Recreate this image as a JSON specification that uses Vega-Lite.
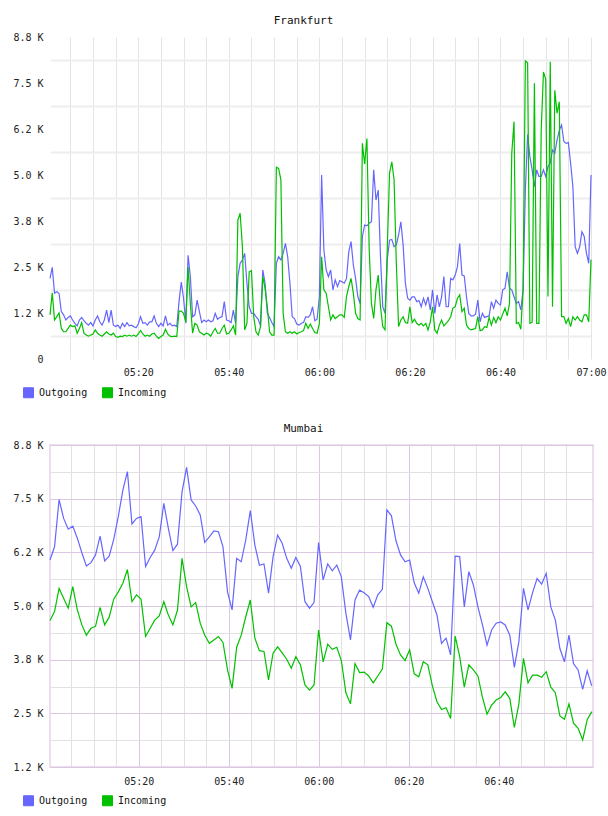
{
  "$schema": "https://vega.github.io/schema/vega-lite/v6.json",
  "background": "white",
  "padding": {"left": 12, "top": 15, "right": 0, "bottom": 0},
  "spacing": 22,
  "config": {
    "font": "DejaVu Sans Mono",
    "view": {"stroke": null},
    "axis": {
      "labelFont": "DejaVu Sans Mono",
      "labelFontSize": 10,
      "labelColor": "#222222",
      "ticks": false,
      "domain": false,
      "title": null,
      "labelOverlap": false,
      "labelFlush": false,
      "labelBound": false
    },
    "title": {"font": "DejaVu Sans Mono", "fontSize": 11, "fontWeight": "normal", "color": "#111111", "anchor": "middle"},
    "legend": {
      "orient": "none",
      "direction": "horizontal",
      "title": null,
      "symbolType": "square",
      "symbolSize": 100,
      "symbolStrokeWidth": 1,
      "labelFont": "DejaVu Sans Mono",
      "labelFontSize": 10,
      "labelColor": "#111111",
      "labelOffset": 5,
      "columnPadding": 12,
      "padding": 0
    }
  },
  "resolve": {"scale": {"color": "independent"}, "legend": {"color": "independent"}},
  "vconcat": [
    {
      "title": {"text": "Frankfurt", "dx": -17, "offset": 6},
      "width": 541,
      "height": 322,
      "data": {
        "values": [
          {"m": 0.5, "Outgoing": 2190, "Incoming": 1200}, {"m": 1, "Outgoing": 2490, "Incoming": 1800},
          {"m": 1.5, "Outgoing": 1790, "Incoming": 1060}, {"m": 2, "Outgoing": 1830, "Incoming": 1150},
          {"m": 2.5, "Outgoing": 1780, "Incoming": 1250}, {"m": 3, "Outgoing": 1290, "Incoming": 830},
          {"m": 3.5, "Outgoing": 1200, "Incoming": 740}, {"m": 4, "Outgoing": 1060, "Incoming": 740},
          {"m": 4.5, "Outgoing": 1130, "Incoming": 830}, {"m": 5, "Outgoing": 1170, "Incoming": 920},
          {"m": 5.5, "Outgoing": 1060, "Incoming": 880}, {"m": 6, "Outgoing": 970, "Incoming": 900},
          {"m": 6.5, "Outgoing": 900, "Incoming": 700}, {"m": 7, "Outgoing": 1060, "Incoming": 830},
          {"m": 7.5, "Outgoing": 1130, "Incoming": 990}, {"m": 8, "Outgoing": 1040, "Incoming": 700},
          {"m": 8.5, "Outgoing": 970, "Incoming": 650}, {"m": 9, "Outgoing": 920, "Incoming": 620},
          {"m": 9.5, "Outgoing": 990, "Incoming": 650}, {"m": 10, "Outgoing": 900, "Incoming": 680},
          {"m": 10.5, "Outgoing": 1060, "Incoming": 790}, {"m": 11, "Outgoing": 1170, "Incoming": 700},
          {"m": 11.5, "Outgoing": 1010, "Incoming": 650}, {"m": 12, "Outgoing": 920, "Incoming": 620},
          {"m": 12.5, "Outgoing": 1060, "Incoming": 680}, {"m": 13, "Outgoing": 1330, "Incoming": 740},
          {"m": 13.5, "Outgoing": 990, "Incoming": 680}, {"m": 14, "Outgoing": 1330, "Incoming": 650},
          {"m": 14.5, "Outgoing": 920, "Incoming": 700}, {"m": 15, "Outgoing": 880, "Incoming": 610},
          {"m": 15.5, "Outgoing": 920, "Incoming": 590}, {"m": 16, "Outgoing": 830, "Incoming": 620},
          {"m": 16.5, "Outgoing": 970, "Incoming": 610}, {"m": 17, "Outgoing": 880, "Incoming": 650},
          {"m": 17.5, "Outgoing": 990, "Incoming": 620}, {"m": 18, "Outgoing": 900, "Incoming": 650},
          {"m": 18.5, "Outgoing": 920, "Incoming": 620}, {"m": 19, "Outgoing": 880, "Incoming": 650},
          {"m": 19.5, "Outgoing": 850, "Incoming": 610}, {"m": 20, "Outgoing": 950, "Incoming": 680},
          {"m": 20.5, "Outgoing": 1150, "Incoming": 770}, {"m": 21, "Outgoing": 970, "Incoming": 680},
          {"m": 21.5, "Outgoing": 990, "Incoming": 620}, {"m": 22, "Outgoing": 920, "Incoming": 650},
          {"m": 22.5, "Outgoing": 1010, "Incoming": 620}, {"m": 23, "Outgoing": 1010, "Incoming": 680},
          {"m": 23.5, "Outgoing": 1170, "Incoming": 700}, {"m": 24, "Outgoing": 970, "Incoming": 620},
          {"m": 24.5, "Outgoing": 880, "Incoming": 560}, {"m": 25, "Outgoing": 970, "Incoming": 610},
          {"m": 25.5, "Outgoing": 900, "Incoming": 650}, {"m": 26, "Outgoing": 1170, "Incoming": 810},
          {"m": 26.5, "Outgoing": 920, "Incoming": 680}, {"m": 27, "Outgoing": 970, "Incoming": 620},
          {"m": 27.5, "Outgoing": 900, "Incoming": 610}, {"m": 28, "Outgoing": 920, "Incoming": 620},
          {"m": 28.5, "Outgoing": 880, "Incoming": 610}, {"m": 29, "Outgoing": 1560, "Incoming": 1300},
          {"m": 29.5, "Outgoing": 2090, "Incoming": 1300}, {"m": 30, "Outgoing": 1650, "Incoming": 1240},
          {"m": 30.5, "Outgoing": 970, "Incoming": 1000}, {"m": 31, "Outgoing": 2820, "Incoming": 2500},
          {"m": 31.5, "Outgoing": 2240, "Incoming": 1510}, {"m": 32, "Outgoing": 1150, "Incoming": 700},
          {"m": 32.5, "Outgoing": 1200, "Incoming": 970}, {"m": 33, "Outgoing": 1600, "Incoming": 920},
          {"m": 33.5, "Outgoing": 1290, "Incoming": 740}, {"m": 34, "Outgoing": 990, "Incoming": 700},
          {"m": 34.5, "Outgoing": 1060, "Incoming": 650}, {"m": 35, "Outgoing": 1010, "Incoming": 700},
          {"m": 35.5, "Outgoing": 1060, "Incoming": 680}, {"m": 36, "Outgoing": 1010, "Incoming": 620},
          {"m": 36.5, "Outgoing": 1040, "Incoming": 740}, {"m": 37, "Outgoing": 1240, "Incoming": 830},
          {"m": 37.5, "Outgoing": 1080, "Incoming": 700}, {"m": 38, "Outgoing": 1130, "Incoming": 700},
          {"m": 38.5, "Outgoing": 1150, "Incoming": 830}, {"m": 39, "Outgoing": 1560, "Incoming": 920},
          {"m": 39.5, "Outgoing": 1060, "Incoming": 680}, {"m": 40, "Outgoing": 1040, "Incoming": 700},
          {"m": 40.5, "Outgoing": 990, "Incoming": 790}, {"m": 41, "Outgoing": 1330, "Incoming": 900},
          {"m": 41.5, "Outgoing": 970, "Incoming": 650}, {"m": 42, "Outgoing": 2240, "Incoming": 3780},
          {"m": 42.5, "Outgoing": 2600, "Incoming": 3960}, {"m": 43, "Outgoing": 2690, "Incoming": 3050},
          {"m": 43.5, "Outgoing": 2870, "Incoming": 790}, {"m": 44, "Outgoing": 2060, "Incoming": 970},
          {"m": 44.5, "Outgoing": 1420, "Incoming": 2370}, {"m": 45, "Outgoing": 1240, "Incoming": 2400},
          {"m": 45.5, "Outgoing": 1240, "Incoming": 1150}, {"m": 46, "Outgoing": 1150, "Incoming": 740},
          {"m": 46.5, "Outgoing": 1080, "Incoming": 650}, {"m": 47, "Outgoing": 900, "Incoming": 880},
          {"m": 47.5, "Outgoing": 2420, "Incoming": 2240}, {"m": 48, "Outgoing": 2060, "Incoming": 1920},
          {"m": 48.5, "Outgoing": 1240, "Incoming": 1420}, {"m": 49, "Outgoing": 1130, "Incoming": 740},
          {"m": 49.5, "Outgoing": 990, "Incoming": 650}, {"m": 50, "Outgoing": 880, "Incoming": 650},
          {"m": 50.5, "Outgoing": 2600, "Incoming": 5210}, {"m": 51, "Outgoing": 2780, "Incoming": 5180},
          {"m": 51.5, "Outgoing": 2690, "Incoming": 4870}, {"m": 52, "Outgoing": 2870, "Incoming": 1240},
          {"m": 52.5, "Outgoing": 3140, "Incoming": 740}, {"m": 53, "Outgoing": 2780, "Incoming": 700},
          {"m": 53.5, "Outgoing": 2060, "Incoming": 740}, {"m": 54, "Outgoing": 1150, "Incoming": 700},
          {"m": 54.5, "Outgoing": 1100, "Incoming": 740}, {"m": 55, "Outgoing": 950, "Incoming": 680},
          {"m": 55.5, "Outgoing": 920, "Incoming": 720}, {"m": 56, "Outgoing": 970, "Incoming": 740},
          {"m": 56.5, "Outgoing": 990, "Incoming": 770}, {"m": 57, "Outgoing": 1150, "Incoming": 970},
          {"m": 57.5, "Outgoing": 1130, "Incoming": 830}, {"m": 58, "Outgoing": 1200, "Incoming": 950},
          {"m": 58.5, "Outgoing": 1420, "Incoming": 830}, {"m": 59, "Outgoing": 1040, "Incoming": 720},
          {"m": 59.5, "Outgoing": 1080, "Incoming": 700}, {"m": 60, "Outgoing": 1690, "Incoming": 970},
          {"m": 60.5, "Outgoing": 5000, "Incoming": 2780}, {"m": 61, "Outgoing": 2960, "Incoming": 1880},
          {"m": 61.5, "Outgoing": 2420, "Incoming": 1790}, {"m": 62, "Outgoing": 2240, "Incoming": 1420},
          {"m": 62.5, "Outgoing": 2420, "Incoming": 1060}, {"m": 63, "Outgoing": 1880, "Incoming": 1200},
          {"m": 63.5, "Outgoing": 2150, "Incoming": 1100}, {"m": 64, "Outgoing": 1970, "Incoming": 1150},
          {"m": 64.5, "Outgoing": 2130, "Incoming": 1200}, {"m": 65, "Outgoing": 2100, "Incoming": 1200},
          {"m": 65.5, "Outgoing": 2060, "Incoming": 1130}, {"m": 66, "Outgoing": 2190, "Incoming": 1700},
          {"m": 66.5, "Outgoing": 2920, "Incoming": 1970}, {"m": 67, "Outgoing": 3190, "Incoming": 2190},
          {"m": 67.5, "Outgoing": 2560, "Incoming": 1790}, {"m": 68, "Outgoing": 2190, "Incoming": 1240},
          {"m": 68.5, "Outgoing": 1690, "Incoming": 1100}, {"m": 69, "Outgoing": 1510, "Incoming": 1060},
          {"m": 69.5, "Outgoing": 3330, "Incoming": 5860}, {"m": 70, "Outgoing": 3640, "Incoming": 5300},
          {"m": 70.5, "Outgoing": 3620, "Incoming": 5990}, {"m": 71, "Outgoing": 3690, "Incoming": 3000},
          {"m": 71.5, "Outgoing": 3730, "Incoming": 1510}, {"m": 72, "Outgoing": 5140, "Incoming": 1100},
          {"m": 72.5, "Outgoing": 4320, "Incoming": 1880}, {"m": 73, "Outgoing": 4590, "Incoming": 2280},
          {"m": 73.5, "Outgoing": 2780, "Incoming": 1420}, {"m": 74, "Outgoing": 1420, "Incoming": 880},
          {"m": 74.5, "Outgoing": 1240, "Incoming": 790}, {"m": 75, "Outgoing": 2700, "Incoming": 3000},
          {"m": 75.5, "Outgoing": 3230, "Incoming": 5050}, {"m": 76, "Outgoing": 3250, "Incoming": 5360},
          {"m": 76.5, "Outgoing": 3050, "Incoming": 4870}, {"m": 77, "Outgoing": 3100, "Incoming": 2600},
          {"m": 77.5, "Outgoing": 3370, "Incoming": 880}, {"m": 78, "Outgoing": 3730, "Incoming": 1060},
          {"m": 78.5, "Outgoing": 3100, "Incoming": 1150}, {"m": 79, "Outgoing": 2060, "Incoming": 990},
          {"m": 79.5, "Outgoing": 1650, "Incoming": 970}, {"m": 80, "Outgoing": 1600, "Incoming": 1420},
          {"m": 80.5, "Outgoing": 1690, "Incoming": 990}, {"m": 81, "Outgoing": 1690, "Incoming": 1080},
          {"m": 81.5, "Outgoing": 1560, "Incoming": 970}, {"m": 82, "Outgoing": 1590, "Incoming": 920},
          {"m": 82.5, "Outgoing": 1420, "Incoming": 970}, {"m": 83, "Outgoing": 1650, "Incoming": 900},
          {"m": 83.5, "Outgoing": 1470, "Incoming": 970}, {"m": 84, "Outgoing": 1690, "Incoming": 790},
          {"m": 84.5, "Outgoing": 1330, "Incoming": 1010}, {"m": 85, "Outgoing": 1880, "Incoming": 1420},
          {"m": 85.5, "Outgoing": 1240, "Incoming": 790}, {"m": 86, "Outgoing": 1740, "Incoming": 700},
          {"m": 86.5, "Outgoing": 1420, "Incoming": 920}, {"m": 87, "Outgoing": 1690, "Incoming": 1060},
          {"m": 87.5, "Outgoing": 2240, "Incoming": 900}, {"m": 88, "Outgoing": 1420, "Incoming": 970},
          {"m": 88.5, "Outgoing": 1420, "Incoming": 1040}, {"m": 89, "Outgoing": 2190, "Incoming": 1150},
          {"m": 89.5, "Outgoing": 2150, "Incoming": 1380}, {"m": 90, "Outgoing": 2280, "Incoming": 1420},
          {"m": 90.5, "Outgoing": 2510, "Incoming": 1650}, {"m": 91, "Outgoing": 3140, "Incoming": 1740},
          {"m": 91.5, "Outgoing": 2280, "Incoming": 1290}, {"m": 92, "Outgoing": 2260, "Incoming": 1380},
          {"m": 92.5, "Outgoing": 1690, "Incoming": 920}, {"m": 93, "Outgoing": 1240, "Incoming": 830},
          {"m": 93.5, "Outgoing": 1170, "Incoming": 790}, {"m": 94, "Outgoing": 1170, "Incoming": 810},
          {"m": 94.5, "Outgoing": 1220, "Incoming": 830}, {"m": 95, "Outgoing": 1600, "Incoming": 1150},
          {"m": 95.5, "Outgoing": 1010, "Incoming": 770}, {"m": 96, "Outgoing": 1240, "Incoming": 790},
          {"m": 96.5, "Outgoing": 1130, "Incoming": 880}, {"m": 97, "Outgoing": 1150, "Incoming": 860},
          {"m": 97.5, "Outgoing": 1170, "Incoming": 1130}, {"m": 98, "Outgoing": 1560, "Incoming": 920},
          {"m": 98.5, "Outgoing": 1380, "Incoming": 1130}, {"m": 99, "Outgoing": 1600, "Incoming": 990},
          {"m": 99.5, "Outgoing": 1510, "Incoming": 1150}, {"m": 100, "Outgoing": 1470, "Incoming": 1060},
          {"m": 100.5, "Outgoing": 1880, "Incoming": 1220}, {"m": 101, "Outgoing": 1920, "Incoming": 1380},
          {"m": 101.5, "Outgoing": 2370, "Incoming": 1170}, {"m": 102, "Outgoing": 1920, "Incoming": 1510},
          {"m": 102.5, "Outgoing": 1880, "Incoming": 5600}, {"m": 103, "Outgoing": 1690, "Incoming": 6450},
          {"m": 103.5, "Outgoing": 1510, "Incoming": 970}, {"m": 104, "Outgoing": 1560, "Incoming": 990},
          {"m": 104.5, "Outgoing": 1330, "Incoming": 810}, {"m": 105, "Outgoing": 1880, "Incoming": 1880},
          {"m": 105.5, "Outgoing": 4590, "Incoming": 8100}, {"m": 106, "Outgoing": 6100, "Incoming": 8050},
          {"m": 106.5, "Outgoing": 5500, "Incoming": 970}, {"m": 107, "Outgoing": 5140, "Incoming": 1000},
          {"m": 107.5, "Outgoing": 4680, "Incoming": 7490}, {"m": 108, "Outgoing": 5140, "Incoming": 970},
          {"m": 108.5, "Outgoing": 4960, "Incoming": 970}, {"m": 109, "Outgoing": 4960, "Incoming": 6200},
          {"m": 109.5, "Outgoing": 5140, "Incoming": 7800}, {"m": 110, "Outgoing": 4960, "Incoming": 7600},
          {"m": 110.5, "Outgoing": 5230, "Incoming": 1700}, {"m": 111, "Outgoing": 5320, "Incoming": 8080},
          {"m": 111.5, "Outgoing": 5680, "Incoming": 1420}, {"m": 112, "Outgoing": 5590, "Incoming": 7300},
          {"m": 112.5, "Outgoing": 5950, "Incoming": 6680}, {"m": 113, "Outgoing": 6220, "Incoming": 6990},
          {"m": 113.5, "Outgoing": 6360, "Incoming": 1150}, {"m": 114, "Outgoing": 5910, "Incoming": 1150},
          {"m": 114.5, "Outgoing": 5860, "Incoming": 970}, {"m": 115, "Outgoing": 5880, "Incoming": 1100},
          {"m": 115.5, "Outgoing": 5320, "Incoming": 880}, {"m": 116, "Outgoing": 4680, "Incoming": 1150},
          {"m": 116.5, "Outgoing": 3050, "Incoming": 1060}, {"m": 117, "Outgoing": 2870, "Incoming": 1150},
          {"m": 117.5, "Outgoing": 3050, "Incoming": 1060}, {"m": 118, "Outgoing": 3460, "Incoming": 1010},
          {"m": 118.5, "Outgoing": 3330, "Incoming": 1200}, {"m": 119, "Outgoing": 2870, "Incoming": 1200},
          {"m": 119.5, "Outgoing": 2600, "Incoming": 1010}, {"m": 120, "Outgoing": 5000, "Incoming": 2700}
        ]
      },
      "transform": [{"fold": ["Outgoing", "Incoming"], "as": ["series", "bytes"]}],
      "mark": {"type": "line", "strokeWidth": 1.2},
      "encoding": {
        "x": {
          "field": "m",
          "type": "quantitative",
          "scale": {"domain": [0.5, 120], "nice": false, "zero": false},
          "axis": {
            "values": [5, 10, 15, 20, 25, 30, 35, 40, 45, 50, 55, 60, 65, 70, 75, 80, 85, 90, 95, 100, 105, 110, 115, 120],
            "labelExpr": "datum.value % 20 === 0 ? '0' + (5 + floor(datum.value / 60)) + ':' + (datum.value % 60 === 0 ? '00' : '' + (datum.value % 60)) : ''",
            "gridColor": "#e4e4e4",
            "gridWidth": 1,
            "labelPadding": 8
          }
        },
        "y": {
          "field": "bytes",
          "type": "quantitative",
          "scale": {"domain": [0, 8750], "nice": false},
          "axis": {
            "values": [0, 625, 1250, 1875, 2500, 3125, 3750, 4375, 5000, 5625, 6250, 6875, 7500, 8125, 8750],
            "labelExpr": "datum.value === 0 ? '0' : datum.value % 1250 !== 0 ? '' : datum.value === 1250 ? '1.2 K' : datum.value === 3750 ? '3.8 K' : datum.value === 6250 ? '6.2 K' : datum.value === 8750 ? '8.8 K' : format(datum.value / 1000, '.1f') + ' K'",
            "gridColor": {"condition": {"test": "datum.value % 1250 === 0", "value": "transparent"}, "value": "#eeeeee"},
            "gridWidth": 2,
            "labelPadding": 7
          }
        },
        "color": {
          "field": "series",
          "type": "nominal",
          "scale": {"domain": ["Outgoing", "Incoming"], "range": ["#6666ff", "#00c000"]},
          "legend": {
            "legendX": -27,
            "legendY": 350,
            "encode": {
              "symbols": {
                "update": {
                  "fill": {"signal": "datum.value === 'Outgoing' ? '#6666ff' : '#00c000'"},
                  "stroke": {"value": "#999999"},
                  "strokeWidth": {"value": 1},
                  "opacity": {"value": 1}
                }
              }
            }
          }
        }
      }
    },
    {
      "title": {"text": "Mumbai", "dx": -18, "offset": 6},
      "width": 543,
      "height": 322,
      "view": {"stroke": "#e6d4ea", "strokeWidth": 1.5},
      "data": {
        "values": [
          {"m": 0.27, "Outgoing": 6070, "Incoming": 4660}, {"m": 1.28, "Outgoing": 6380, "Incoming": 4870},
          {"m": 2.29, "Outgoing": 7480, "Incoming": 5410}, {"m": 3.3, "Outgoing": 7040, "Incoming": 5180},
          {"m": 4.32, "Outgoing": 6790, "Incoming": 4950}, {"m": 5.33, "Outgoing": 6860, "Incoming": 5450},
          {"m": 6.34, "Outgoing": 6580, "Incoming": 4910}, {"m": 7.35, "Outgoing": 6240, "Incoming": 4560},
          {"m": 8.36, "Outgoing": 5930, "Incoming": 4320}, {"m": 9.37, "Outgoing": 6010, "Incoming": 4480},
          {"m": 10.39, "Outgoing": 6190, "Incoming": 4530}, {"m": 11.4, "Outgoing": 6630, "Incoming": 4970},
          {"m": 12.41, "Outgoing": 6050, "Incoming": 4560}, {"m": 13.42, "Outgoing": 6160, "Incoming": 4740},
          {"m": 14.43, "Outgoing": 6550, "Incoming": 5160}, {"m": 15.44, "Outgoing": 7080, "Incoming": 5330},
          {"m": 16.46, "Outgoing": 7700, "Incoming": 5530}, {"m": 17.47, "Outgoing": 8130, "Incoming": 5850},
          {"m": 18.48, "Outgoing": 6910, "Incoming": 5100}, {"m": 19.49, "Outgoing": 7040, "Incoming": 5260},
          {"m": 20.5, "Outgoing": 7080, "Incoming": 5160}, {"m": 21.51, "Outgoing": 5920, "Incoming": 4290},
          {"m": 22.53, "Outgoing": 6130, "Incoming": 4480}, {"m": 23.54, "Outgoing": 6300, "Incoming": 4670},
          {"m": 24.55, "Outgoing": 6610, "Incoming": 4770}, {"m": 25.56, "Outgoing": 7390, "Incoming": 5100},
          {"m": 26.57, "Outgoing": 6810, "Incoming": 4790}, {"m": 27.58, "Outgoing": 6290, "Incoming": 4560},
          {"m": 28.59, "Outgoing": 6440, "Incoming": 4900}, {"m": 29.61, "Outgoing": 7660, "Incoming": 6110},
          {"m": 30.62, "Outgoing": 8230, "Incoming": 5450}, {"m": 31.63, "Outgoing": 7470, "Incoming": 4980},
          {"m": 32.64, "Outgoing": 7330, "Incoming": 5080}, {"m": 33.65, "Outgoing": 7120, "Incoming": 4600},
          {"m": 34.66, "Outgoing": 6480, "Incoming": 4320}, {"m": 35.68, "Outgoing": 6610, "Incoming": 4130},
          {"m": 36.69, "Outgoing": 6750, "Incoming": 4210}, {"m": 37.7, "Outgoing": 6730, "Incoming": 4290},
          {"m": 38.71, "Outgoing": 6380, "Incoming": 4150}, {"m": 39.72, "Outgoing": 5330, "Incoming": 3510},
          {"m": 40.73, "Outgoing": 4910, "Incoming": 3080}, {"m": 41.75, "Outgoing": 6110, "Incoming": 4040},
          {"m": 42.76, "Outgoing": 6030, "Incoming": 4320}, {"m": 43.77, "Outgoing": 6540, "Incoming": 4750},
          {"m": 44.78, "Outgoing": 7220, "Incoming": 5140}, {"m": 45.79, "Outgoing": 6420, "Incoming": 4250},
          {"m": 46.8, "Outgoing": 5950, "Incoming": 3960}, {"m": 47.82, "Outgoing": 5980, "Incoming": 3940},
          {"m": 48.83, "Outgoing": 5300, "Incoming": 3280}, {"m": 49.84, "Outgoing": 6150, "Incoming": 3900},
          {"m": 50.85, "Outgoing": 6650, "Incoming": 4050}, {"m": 51.86, "Outgoing": 6460, "Incoming": 3910},
          {"m": 52.87, "Outgoing": 6110, "Incoming": 3760}, {"m": 53.88, "Outgoing": 5880, "Incoming": 3550},
          {"m": 54.9, "Outgoing": 6130, "Incoming": 3820}, {"m": 55.91, "Outgoing": 5920, "Incoming": 3630},
          {"m": 56.92, "Outgoing": 5100, "Incoming": 3160}, {"m": 57.93, "Outgoing": 4950, "Incoming": 3040},
          {"m": 58.94, "Outgoing": 5080, "Incoming": 3160}, {"m": 59.95, "Outgoing": 6480, "Incoming": 4440},
          {"m": 60.97, "Outgoing": 5610, "Incoming": 3700}, {"m": 61.98, "Outgoing": 5980, "Incoming": 4110},
          {"m": 62.99, "Outgoing": 5820, "Incoming": 3990}, {"m": 64.0, "Outgoing": 5950, "Incoming": 4040},
          {"m": 65.01, "Outgoing": 5680, "Incoming": 3730}, {"m": 66.02, "Outgoing": 4830, "Incoming": 2980},
          {"m": 67.04, "Outgoing": 4210, "Incoming": 2720}, {"m": 68.05, "Outgoing": 5140, "Incoming": 3660},
          {"m": 69.06, "Outgoing": 5370, "Incoming": 3450}, {"m": 70.07, "Outgoing": 5310, "Incoming": 3460},
          {"m": 71.08, "Outgoing": 5220, "Incoming": 3370}, {"m": 72.09, "Outgoing": 4970, "Incoming": 3210},
          {"m": 73.11, "Outgoing": 5260, "Incoming": 3370}, {"m": 74.12, "Outgoing": 5390, "Incoming": 3530},
          {"m": 75.13, "Outgoing": 7240, "Incoming": 4610}, {"m": 76.14, "Outgoing": 7100, "Incoming": 4530},
          {"m": 77.15, "Outgoing": 6520, "Incoming": 4110}, {"m": 78.16, "Outgoing": 6190, "Incoming": 3860},
          {"m": 79.17, "Outgoing": 6030, "Incoming": 3730}, {"m": 80.19, "Outgoing": 6070, "Incoming": 3980},
          {"m": 81.2, "Outgoing": 5540, "Incoming": 3420}, {"m": 82.21, "Outgoing": 5300, "Incoming": 3350},
          {"m": 83.22, "Outgoing": 5680, "Incoming": 3700}, {"m": 84.23, "Outgoing": 5410, "Incoming": 3630},
          {"m": 85.24, "Outgoing": 5100, "Incoming": 3140}, {"m": 86.26, "Outgoing": 4790, "Incoming": 2770},
          {"m": 87.27, "Outgoing": 4130, "Incoming": 2590}, {"m": 88.28, "Outgoing": 4250, "Incoming": 2630},
          {"m": 89.29, "Outgoing": 3860, "Incoming": 2380}, {"m": 90.3, "Outgoing": 6160, "Incoming": 4300},
          {"m": 91.31, "Outgoing": 6150, "Incoming": 3820}, {"m": 92.33, "Outgoing": 4980, "Incoming": 3110},
          {"m": 93.34, "Outgoing": 5800, "Incoming": 3630}, {"m": 94.35, "Outgoing": 5490, "Incoming": 3510},
          {"m": 95.36, "Outgoing": 4980, "Incoming": 3370}, {"m": 96.37, "Outgoing": 4560, "Incoming": 2870},
          {"m": 97.38, "Outgoing": 4090, "Incoming": 2480}, {"m": 98.4, "Outgoing": 4440, "Incoming": 2690},
          {"m": 99.41, "Outgoing": 4600, "Incoming": 2810}, {"m": 100.42, "Outgoing": 4630, "Incoming": 2870},
          {"m": 101.43, "Outgoing": 4560, "Incoming": 3000}, {"m": 102.44, "Outgoing": 4320, "Incoming": 2850},
          {"m": 103.45, "Outgoing": 3570, "Incoming": 2170}, {"m": 104.46, "Outgoing": 4170, "Incoming": 2720},
          {"m": 105.48, "Outgoing": 5410, "Incoming": 3780}, {"m": 106.49, "Outgoing": 4910, "Incoming": 3210},
          {"m": 107.5, "Outgoing": 5310, "Incoming": 3390}, {"m": 108.51, "Outgoing": 5640, "Incoming": 3390},
          {"m": 109.52, "Outgoing": 5510, "Incoming": 3340}, {"m": 110.53, "Outgoing": 5760, "Incoming": 3470},
          {"m": 111.55, "Outgoing": 4980, "Incoming": 3110}, {"m": 112.56, "Outgoing": 4670, "Incoming": 2980},
          {"m": 113.57, "Outgoing": 4010, "Incoming": 2440}, {"m": 114.58, "Outgoing": 3700, "Incoming": 2360},
          {"m": 115.59, "Outgoing": 4320, "Incoming": 2720}, {"m": 116.6, "Outgoing": 3660, "Incoming": 2270},
          {"m": 117.62, "Outgoing": 3510, "Incoming": 2150}, {"m": 118.63, "Outgoing": 3060, "Incoming": 1880},
          {"m": 119.64, "Outgoing": 3490, "Incoming": 2350}, {"m": 120.65, "Outgoing": 3140, "Incoming": 2540}
        ]
      },
      "transform": [{"fold": ["Outgoing", "Incoming"], "as": ["series", "bytes"]}],
      "mark": {"type": "line", "strokeWidth": 1.2},
      "encoding": {
        "x": {
          "field": "m",
          "type": "quantitative",
          "scale": {"domain": [0.27, 120.93], "nice": false, "zero": false},
          "axis": {
            "values": [5, 10, 15, 20, 25, 30, 35, 40, 45, 50, 55, 60, 65, 70, 75, 80, 85, 90, 95, 100, 105, 110, 115],
            "labelExpr": "datum.value % 20 === 0 ? '0' + (5 + floor(datum.value / 60)) + ':' + (datum.value % 60 === 0 ? '00' : '' + (datum.value % 60)) : ''",
            "gridColor": {"condition": {"test": "datum.value % 20 === 0", "value": "#dcc6e2"}, "value": "#e2e2e2"},
            "gridWidth": 1,
            "labelPadding": 9
          }
        },
        "y": {
          "field": "bytes",
          "type": "quantitative",
          "scale": {"domain": [1250, 8750], "nice": false, "zero": false},
          "axis": {
            "values": [1250, 1875, 2500, 3125, 3750, 4375, 5000, 5625, 6250, 6875, 7500, 8125, 8750],
            "labelExpr": "datum.value % 1250 !== 0 ? '' : datum.value === 1250 ? '1.2 K' : datum.value === 3750 ? '3.8 K' : datum.value === 6250 ? '6.2 K' : datum.value === 8750 ? '8.8 K' : format(datum.value / 1000, '.1f') + ' K'",
            "gridColor": {"condition": {"test": "datum.value % 1250 === 0", "value": "#dcc6e2"}, "value": "#e2e2e2"},
            "gridWidth": 1,
            "labelPadding": 7
          }
        },
        "color": {
          "field": "series",
          "type": "nominal",
          "scale": {"domain": ["Outgoing", "Incoming"], "range": ["#6666ff", "#00c000"]},
          "legend": {
            "legendX": -27,
            "legendY": 350,
            "encode": {
              "symbols": {
                "update": {
                  "fill": {"signal": "datum.value === 'Outgoing' ? '#6666ff' : '#00c000'"},
                  "stroke": {"value": "#999999"},
                  "strokeWidth": {"value": 1},
                  "opacity": {"value": 1}
                }
              }
            }
          }
        }
      }
    }
  ]
}
